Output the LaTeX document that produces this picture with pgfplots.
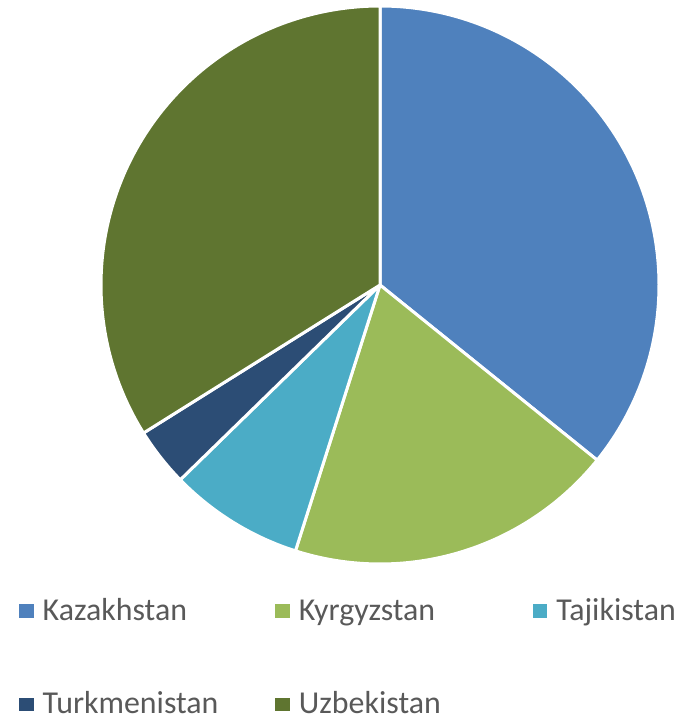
\documentclass[border=0pt]{standalone}
\usepackage{pgfplots}
\pgfplotsset{compat=1.18}
\usepackage{fontspec}
\setmainfont{Carlito}
\definecolor{kaz}{HTML}{4F81BD}
\definecolor{kyr}{HTML}{9BBB59}
\definecolor{taj}{HTML}{4BACC6}
\definecolor{tur}{HTML}{2C4D75}
\definecolor{uzb}{HTML}{5F7530}
\definecolor{txt}{HTML}{595959}
% shares in percent (clockwise from 12 o'clock)
\def\vKaz{35.8}
\def\vKyr{19.1}
\def\vTaj{7.8}
\def\vTur{3.4}
\def\vUzb{33.9}
\pgfmathsetmacro\aA{0}
\pgfmathsetmacro\aB{\aA+3.6*\vKaz}
\pgfmathsetmacro\aC{\aB+3.6*\vKyr}
\pgfmathsetmacro\aD{\aC+3.6*\vTaj}
\pgfmathsetmacro\aE{\aD+3.6*\vTur}
\pgfmathsetmacro\aF{\aE+3.6*\vUzb}
\def\cx{380}
\def\cy{429}
\def\rr{279}
\begin{document}
\begin{tikzpicture}
\useasboundingbox (0,0) rectangle (699bp,714bp);
\begin{axis}[
  at={(0,0)}, anchor=origin,
  scale only axis, width=699bp, height=714bp,
  xmin=0, xmax=699, ymin=0, ymax=714,
  hide axis, clip=false,
  legend columns=3,
  legend image code/.code={\fill[#1, draw=none] (0bp,2.5bp) rectangle (14.5bp,16bp);},
  legend style={draw=none, fill=none, at={(axis cs:16,118)}, anchor=north west,
    font=\fontsize{32}{32}\selectfont, text=txt,
    nodes={inner sep=0pt, anchor=base west},
    row sep=70bp,
    /tikz/column 1/.style={column sep=9bp},
    /tikz/column 2/.style={column sep=57bp},
    /tikz/column 3/.style={column sep=9bp},
    /tikz/column 4/.style={column sep=92bp},
    /tikz/column 5/.style={column sep=9bp}},
]
\addplot[fill=kaz, draw=white, line width=3bp, line join=round, domain=\aA:\aB, samples=120, variable=\t]
  ({\cx+\rr*sin(\t)},{\cy+\rr*cos(\t)}) -- (axis cs:\cx,\cy) -- cycle;
\addlegendentry{Kazakhstan}
\addplot[fill=kyr, draw=white, line width=3bp, line join=round, domain=\aB:\aC, samples=80, variable=\t]
  ({\cx+\rr*sin(\t)},{\cy+\rr*cos(\t)}) -- (axis cs:\cx,\cy) -- cycle;
\addlegendentry{Kyrgyzstan}
\addplot[fill=taj, draw=white, line width=3bp, line join=round, domain=\aC:\aD, samples=40, variable=\t]
  ({\cx+\rr*sin(\t)},{\cy+\rr*cos(\t)}) -- (axis cs:\cx,\cy) -- cycle;
\addlegendentry{Tajikistan}
\addplot[fill=tur, draw=white, line width=3bp, line join=round, domain=\aD:\aE, samples=20, variable=\t]
  ({\cx+\rr*sin(\t)},{\cy+\rr*cos(\t)}) -- (axis cs:\cx,\cy) -- cycle;
\addlegendentry{Turkmenistan}
\addplot[fill=uzb, draw=white, line width=3bp, line join=round, domain=\aE:\aF, samples=120, variable=\t]
  ({\cx+\rr*sin(\t)},{\cy+\rr*cos(\t)}) -- (axis cs:\cx,\cy) -- cycle;
\addlegendentry{Uzbekistan}
\end{axis}
\end{tikzpicture}
\end{document}
